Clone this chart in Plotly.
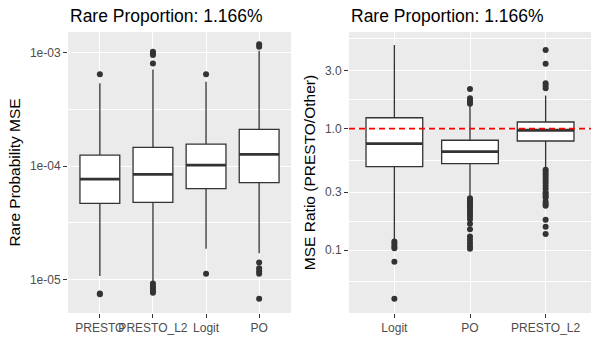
import numpy as np
import plotly.graph_objects as go

# left panel: rare probability MSE per method
left_methods = ["PRESTO", "PRESTO_L2", "Logit", "PO"]
left_q1 = [4.69e-5, 4.78e-5, 6.31e-5, 7.13e-5]
left_med = [7.68e-5, 8.45e-5, 1.02e-4, 1.27e-4]
left_q3 = [1.25e-4, 1.46e-4, 1.56e-4, 2.11e-4]
left_lo = [1.07e-5, 9.5e-6, 1.86e-5, 1.7e-5]
left_hi = [5.37e-4, 7.13e-4, 5.55e-4, 1.04e-3]
left_out = [
    [6.45e-4, 7.4e-6, 7.5e-6],
    [1.02e-3, 9.9e-4, 9.55e-4, 8.05e-4, 9.2e-6, 8.7e-6, 8.3e-6, 7.9e-6, 7.6e-6],
    [6.45e-4, 1.12e-5],
    [1.19e-3, 1.13e-3, 1.41e-5, 1.25e-5, 1.18e-5, 1.12e-5, 6.75e-6],
]

# right panel: MSE ratio PRESTO / other
right_methods = ["Logit", "PO", "PRESTO_L2"]
right_q1 = [0.487, 0.515, 0.792]
right_med = [0.753, 0.647, 0.97]
right_q3 = [1.23, 0.803, 1.135]
right_lo = [0.122, 0.276, 0.472]
right_hi = [4.88, 1.57, 1.87]
right_out = [
    [0.118, 0.113, 0.108, 0.104, 0.0805, 0.04],
    [2.12, 1.78, 1.7, 1.64, 1.6, 0.268, 0.26, 0.252, 0.245, 0.238, 0.23, 0.22,
     0.21, 0.2, 0.19, 0.18, 0.165, 0.149, 0.13, 0.122, 0.115, 0.108, 0.103],
    [4.44, 3.42, 2.36, 2.25, 2.15, 0.46, 0.44, 0.42, 0.4, 0.38, 0.36, 0.34,
     0.32, 0.3, 0.29, 0.28, 0.27, 0.25, 0.24, 0.232, 0.178, 0.156, 0.136],
]

left_ticks = [1e-5, 1e-4, 1e-3]
left_ticklabels = ["1e-05", "1e-04", "1e-03"]
right_ticks = [0.1, 0.3, 1.0, 3.0]
right_ticklabels = ["0.1", "0.3", "1.0", "3.0"]

title_txt = "Rare Proportion: 1.166%"

W, H = 596, 338
DARK = "#333333"
BW = 0.75
FONT = "Liberation Sans"

fig = go.Figure()


def add_panel(methods, q1, med, q3, lo, hi, outs, xa, ya):
    pos = list(range(1, len(methods) + 1))
    fig.add_trace(go.Box(x=pos, q1=q1, median=med, q3=q3, lowerfence=lo, upperfence=hi,
                         width=BW, fillcolor="white", line=dict(color=DARK, width=1.3),
                         boxpoints=False, whiskerwidth=0, showlegend=False,
                         xaxis=xa, yaxis=ya, hoverinfo="skip"))
    # thicker median bar like ggplot
    for p, m in zip(pos, med):
        fig.add_trace(go.Scatter(x=[p - BW / 2, p + BW / 2], y=[m, m], mode="lines",
                                 line=dict(color=DARK, width=2.8), showlegend=False,
                                 xaxis=xa, yaxis=ya, hoverinfo="skip"))
    ox, oy = [], []
    for p, o in zip(pos, outs):
        ox += [p] * len(o)
        oy += o
    fig.add_trace(go.Scatter(x=ox, y=oy, mode="markers",
                             marker=dict(color=DARK, size=6), showlegend=False,
                             xaxis=xa, yaxis=ya, hoverinfo="skip"))


add_panel(left_methods, left_q1, left_med, left_q3, left_lo, left_hi, left_out, "x", "y")
add_panel(right_methods, right_q1, right_med, right_q3, right_lo, right_hi, right_out, "x2", "y2")

# reference line at ratio 1
fig.add_trace(go.Scatter(x=[0.4, len(right_methods) + 0.6], y=[1, 1], mode="lines",
                         line=dict(color="#FF0000", width=1.8, dash="6px,4px"),
                         showlegend=False, xaxis="x2", yaxis="y2", hoverinfo="skip"))

ydom = [1 - 313 / H, 1 - 32 / H]
axis_common = dict(showline=False, zeroline=False, gridcolor="white", gridwidth=1.1,
                   ticks="outside", ticklen=4, tickcolor=DARK, tickwidth=1.1, tickangle=0,
                   automargin=False,
                   tickfont=dict(family=FONT, size=12, color="#4D4D4D"))

fig.update_layout(
    width=W, height=H,
    margin=dict(l=0, r=0, t=0, b=0),
    paper_bgcolor="white", plot_bgcolor="#EBEBEB",
    xaxis=dict(domain=[68 / W, 291 / W], range=[0.4, 4.6], tickmode="array",
               tickvals=[1, 2, 3, 4], ticktext=left_methods, anchor="y", **axis_common),
    yaxis=dict(domain=ydom, type="log", range=[-5.297, -2.817], tickmode="array",
               tickvals=left_ticks, ticktext=left_ticklabels, anchor="x",
               minor=dict(tickvals=[10 ** -4.5, 10 ** -3.5], showgrid=True,
                          gridcolor="white", gridwidth=0.55, ticks=""),
               title=dict(text="Rare Probability MSE", standoff=5,
                          font=dict(family=FONT, size=15.5, color="black")),
               **axis_common),
    xaxis2=dict(domain=[349 / W, 591 / W], range=[0.4, 3.6], tickmode="array",
                tickvals=[1, 2, 3], ticktext=right_methods, anchor="y2", **axis_common),
    yaxis2=dict(domain=ydom, type="log", range=[-1.516, 0.795], tickmode="array",
                tickvals=right_ticks, ticktext=right_ticklabels, anchor="x2",
                minor=dict(tickvals=[0.055, 0.173, 0.548, 1.732, 5.48], showgrid=True,
                           gridcolor="white", gridwidth=0.55, ticks=""),
                title=dict(text="MSE Ratio (PRESTO/Other)", standoff=5,
                           font=dict(family=FONT, size=15.5, color="black")),
                **axis_common),
    annotations=[
        dict(text=title_txt, xref="paper", yref="paper", x=68 / W, y=1 - 4 / H,
             xanchor="left", yanchor="top", showarrow=False,
             font=dict(family=FONT, size=17.5, color="black")),
        dict(text=title_txt, xref="paper", yref="paper", x=349 / W, y=1 - 4 / H,
             xanchor="left", yanchor="top", showarrow=False,
             font=dict(family=FONT, size=17.5, color="black")),
    ],
)

# the page's default body margin would push the figure off by 8px
fig.write_html("out.html", config={"displayModeBar": False},
               post_script="document.body.style.margin='0px';")
